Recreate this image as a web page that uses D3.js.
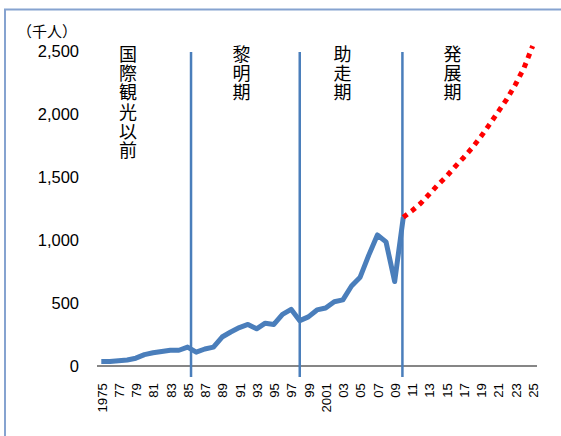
<!DOCTYPE html>
<html>
<head>
<meta charset="utf-8">
<script src="https://cdn.jsdelivr.net/npm/d3@7"></script>
<style>
  body { margin: 0; background: #fff; }
  svg { display: block; }
</style>
</head>
<body>
<svg class="chart" width="561" height="436"></svg>
<script>
// visitors (thousand people), actual 1975-2010
var actualYears = d3.range(1975, 2011);
var actualValues = [35, 35, 42, 48, 62, 90, 105, 115, 125, 125,
                    150, 110, 135, 150, 230, 270, 305, 330, 295, 340,
                    330, 410, 450, 360, 390, 445, 460, 510, 525, 635,
                    705, 880, 1040, 985, 670, 1180];
// projection 2010-2025 (dotted red)
var projYears = d3.range(2010, 2026);
var projValues = [1180, 1231, 1290, 1363, 1437, 1504, 1582, 1655,
                  1733, 1821, 1918, 2018, 2118, 2234, 2367, 2540];

var yTicks = [0, 500, 1000, 1500, 2000, 2500];
var xTickYears = d3.range(1975, 2026, 2);

// phase boundaries and phase labels (label x given as year position)
var phaseLines = [1985.4, 1998, 2009.9];
var phaseNames = ["国際観光以前", "黎明期", "助走期", "発展期"];
var phaseLabelYears = [1978.1, 1991.25, 2002.96, 2015.7];

var blue = "#4a7ebb";

var svg = d3.select(".chart");

// chart area frame (only top and left edges visible)
svg.append("rect")
    .attr("x", 5)
    .attr("y", 9.5)
    .attr("width", 600)
    .attr("height", 500)
    .attr("fill", "none")
    .attr("stroke", "#86a3d0")
    .attr("stroke-width", 2);

var x = d3.scaleLinear()
    .domain([1975, 2025])
    .range([101.3, 532.7]);

var y = d3.scaleLinear()
    .domain([0, 2500])
    .range([366, 51]);

// y axis labels
var yAxis = d3.axisLeft(y)
    .tickValues(yTicks)
    .tickSize(0)
    .tickPadding(18)
    .tickFormat(d3.format(","));

var gy = svg.append("g")
    .attr("transform", "translate(97,0)")
    .call(yAxis);
gy.select(".domain").remove();
gy.selectAll("text")
    .attr("font-family", "Liberation Sans, Arial, sans-serif")
    .attr("font-size", "16.5px")
    .attr("fill", "#000");

svg.append("text")
    .attr("x", 17)
    .attr("y", 37)
    .attr("font-family", "Noto Sans CJK JP")
    .attr("font-size", "15px")
    .attr("fill", "#000")
    .text("（千人）");

// x axis
svg.append("line")
    .attr("x1", 97)
    .attr("x2", 537)
    .attr("y1", y(0))
    .attr("y2", y(0))
    .attr("stroke", "#868686")
    .attr("stroke-width", 2);

var xAxis = d3.axisBottom(x)
    .tickValues(xTickYears)
    .tickSize(0)
    .tickFormat(function(d) {
        if (d == 1975 || d == 2001) return String(d);
        return String(d).slice(2);
    });

var gx = svg.append("g")
    .attr("transform", "translate(0," + y(0) + ")")
    .call(xAxis);
gx.select(".domain").remove();
gx.selectAll("text")
    .attr("font-family", "Liberation Sans, Arial, sans-serif")
    .attr("font-size", "13.3px")
    .attr("fill", "#000")
    .attr("transform", "rotate(-90)")
    .attr("text-anchor", "end")
    .attr("x", -17)
    .attr("y", 0)
    .attr("dy", "0.36em");

// phase boundary lines
svg.selectAll(".phase")
    .data(phaseLines)
    .enter().append("line")
    .attr("class", "phase")
    .attr("x1", function(d) { return x(d); })
    .attr("x2", function(d) { return x(d); })
    .attr("y1", 52)
    .attr("y2", 377)
    .attr("stroke", blue)
    .attr("stroke-width", 2.5);

// vertical phase names
svg.selectAll(".phaseName")
    .data(phaseNames)
    .enter().append("text")
    .attr("class", "phaseName")
    .attr("x", function(d, i) { return x(phaseLabelYears[i]); })
    .attr("y", 45)
    .style("writing-mode", "vertical-rl")
    .style("text-orientation", "upright")
    .style("letter-spacing", "1.3px")
    .attr("font-family", "Noto Sans CJK JP")
    .attr("font-size", "18px")
    .attr("fill", "#000")
    .text(function(d) { return d; });

var line = d3.line()
    .x(function(d) { return x(d[0]); })
    .y(function(d) { return y(d[1]); });

// actual series
svg.append("path")
    .datum(d3.zip(actualYears, actualValues))
    .attr("d", line)
    .attr("fill", "none")
    .attr("stroke", blue)
    .attr("stroke-width", 5)
    .attr("stroke-linejoin", "round");

// projection
svg.append("path")
    .datum(d3.zip(projYears, projValues))
    .attr("d", line)
    .attr("fill", "none")
    .attr("stroke", "#ff0000")
    .attr("stroke-width", 5)
    .attr("stroke-dasharray", "5,5.2");
</script>
</body>
</html>
